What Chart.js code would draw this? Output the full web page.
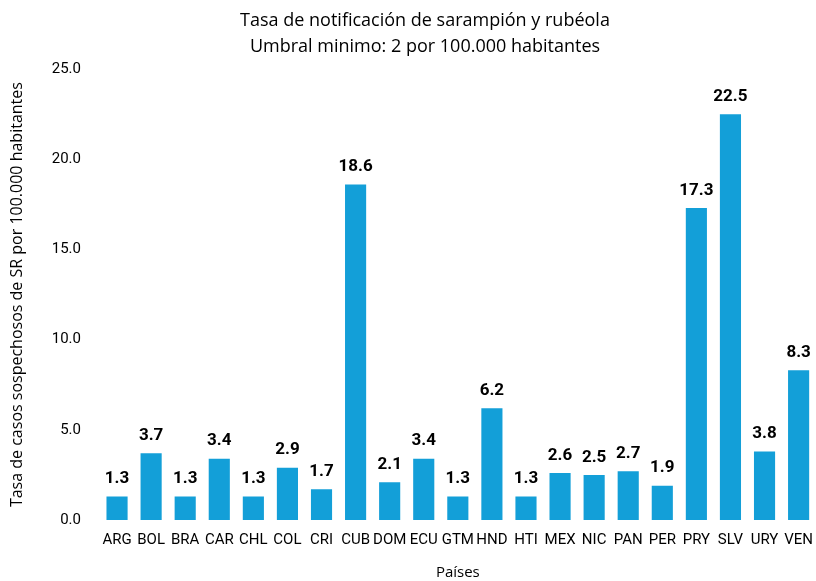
<!DOCTYPE html>
<html>
<head>
<meta charset="utf-8">
<script src="https://cdn.jsdelivr.net/npm/chart.js@4/dist/chart.umd.min.js"></script>
<style>
  html, body { margin: 0; padding: 0; background: #fff; }
  #wrap { width: 816px; height: 581px; }
</style>
</head>
<body>
<div id="wrap"><canvas id="chart" width="816" height="581"></canvas></div>
<script>
const paises = ['ARG', 'BOL', 'BRA', 'CAR', 'CHL', 'COL', 'CRI', 'CUB', 'DOM', 'ECU', 'GTM',
                'HND', 'HTI', 'MEX', 'NIC', 'PAN', 'PER', 'PRY', 'SLV', 'URY', 'VEN'];
const tasas = [1.3, 3.7, 1.3, 3.4, 1.3, 2.9, 1.7, 18.6, 2.1, 3.4, 1.3,
               6.2, 1.3, 2.6, 2.5, 2.7, 1.9, 17.3, 22.5, 3.8, 8.3];
const yMin = 0;
const yMax = 25;
const yStep = 5;

// Draw the value above each bar
const valueLabels = {
    id: 'valueLabels',
    afterDatasetsDraw(chart) {
        const ctx = chart.ctx;
        const meta = chart.getDatasetMeta(0);
        ctx.save();
        ctx.font = 'bold 17px Roboto';
        ctx.fillStyle = '#000';
        ctx.textAlign = 'center';
        ctx.textBaseline = 'bottom';
        meta.data.forEach((bar, i) => {
            ctx.fillText(tasas[i].toFixed(1), bar.x, bar.y - 9);
        });
        ctx.restore();
    }
};

new Chart(document.getElementById('chart').getContext('2d'), {
    type: 'bar',
    data: {
        labels: paises,
        datasets: [{
            data: tasas,
            backgroundColor: '#139FD8',
            borderWidth: 0,
            categoryPercentage: 1,
            barPercentage: 0.62
        }]
    },
    options: {
        responsive: false,
        animation: false,
        layout: { padding: { left: 24, right: -10, top: 8, bottom: -1 } },
        plugins: {
            legend: { display: false },
            tooltip: { enabled: false },
            title: {
                display: true,
                text: ['Tasa de notificación de sarampión y rubéola',
                       'Umbral minimo: 2 por 100.000 habitantes'],
                color: '#000',
                font: { family: 'Open Sans', size: 18, weight: 'normal', lineHeight: 1.45 },
                padding: { top: 0, bottom: 9 }
            }
        },
        scales: {
            x: {
                grid: { display: false },
                border: { display: false },
                ticks: { color: '#000', font: { family: 'Roboto', size: 15 }, autoSkip: false, maxRotation: 0, padding: 3 },
                title: { display: true, text: 'Países', color: '#000', font: { family: 'Open Sans', size: 15 }, padding: { top: 12, bottom: 0 } }
            },
            y: {
                min: yMin,
                max: yMax,
                grid: { display: false },
                border: { display: false },
                ticks: { stepSize: yStep, color: '#000', font: { family: 'Roboto', size: 15 }, padding: 11,
                         callback: v => v.toFixed(1) },
                title: { display: true, text: 'Tasa de casos sospechosos de SR por 100.000 habitantes', color: '#000',
                         font: { family: 'Open Sans', size: 16 }, padding: { top: -16, bottom: 14 } },
                afterFit(scale) { scale.width = 76; }
            }
        }
    },
    plugins: [valueLabels]
});
</script>
</body>
</html>
